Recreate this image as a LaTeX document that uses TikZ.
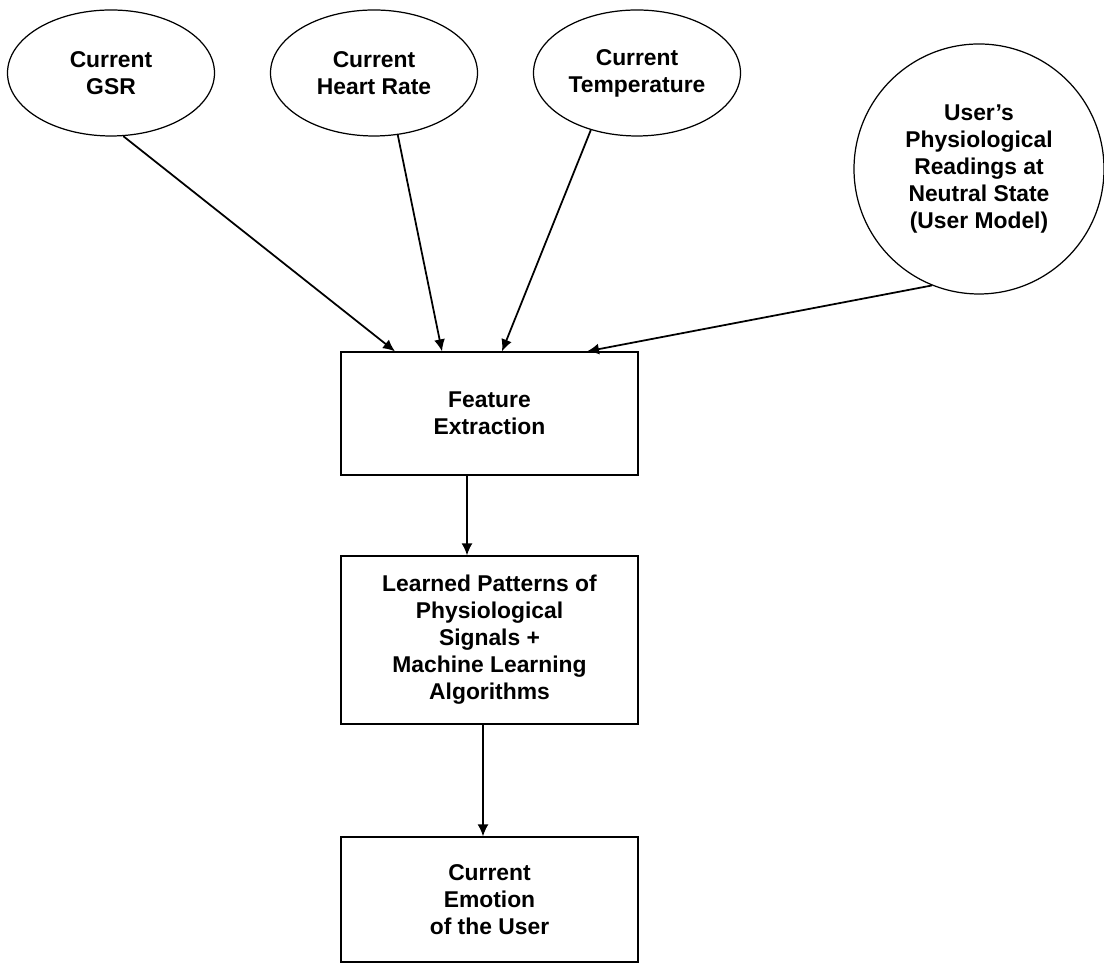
\documentclass[tikz,border=0pt]{standalone}
\usepackage{fontspec}
\setmainfont{Liberation Sans}
\usepackage{tikz}
\usetikzlibrary{arrows.meta,shapes.geometric}

\begin{document}
\begin{tikzpicture}[>={Latex[length=2.4mm,width=2.2mm]},
  font=\fontsize{13}{15.4}\selectfont\bfseries,
  sensor/.style={draw,line width=0.7pt,ellipse,minimum width=4.14cm,minimum height=2.52cm,inner sep=0pt,align=center},
  model/.style={draw,line width=0.7pt,circle,minimum size=5cm,inner sep=0pt,align=center},
  block/.style={draw,line width=0.7pt,rectangle,minimum width=5.94cm,inner sep=0pt,align=center},
  link/.style={->,line width=1pt}]
\useasboundingbox (0,0) rectangle (22.08,19.26);
% inputs
\node[sensor] (gsr) at (2.22,17.80) {Current\\GSR};
\node[sensor] (hr) at (7.48,17.80) {Current\\Heart Rate};
\node[sensor] (temp) at (12.74,17.80) {Current\\Temperature};
\node[model] (usr) at (19.58,15.88) {User's\\Physiological\\Readings at\\Neutral State\\(User Model)};
% processing chain
\node[block,minimum height=2.46cm] (fe) at (9.79,10.99) {Feature\\Extraction};
\node[block,minimum height=3.36cm] (lp) at (9.79,6.46) {Learned Patterns of\\Physiological\\Signals +\\Machine Learning\\Algorithms};
\node[block,minimum height=2.5cm] (em) at (9.79,1.27) {Current\\Emotion\\of the User};
% arrows
\draw[link] (gsr.-79) -- ([xshift=-1.89cm]fe.north);
\draw[link] (hr.-69) -- ([xshift=-0.95cm]fe.north);
\draw[link] (temp.-129) -- ([xshift=0.25cm]fe.north);
\draw[link] (usr.-112) -- ([xshift=1.95cm]fe.north);
\draw[link] ([xshift=-0.45cm]fe.south) -- ([xshift=-0.45cm]lp.north);
\draw[link] ([xshift=-0.13cm]lp.south) -- ([xshift=-0.13cm]em.north);
\end{tikzpicture}
\end{document}
